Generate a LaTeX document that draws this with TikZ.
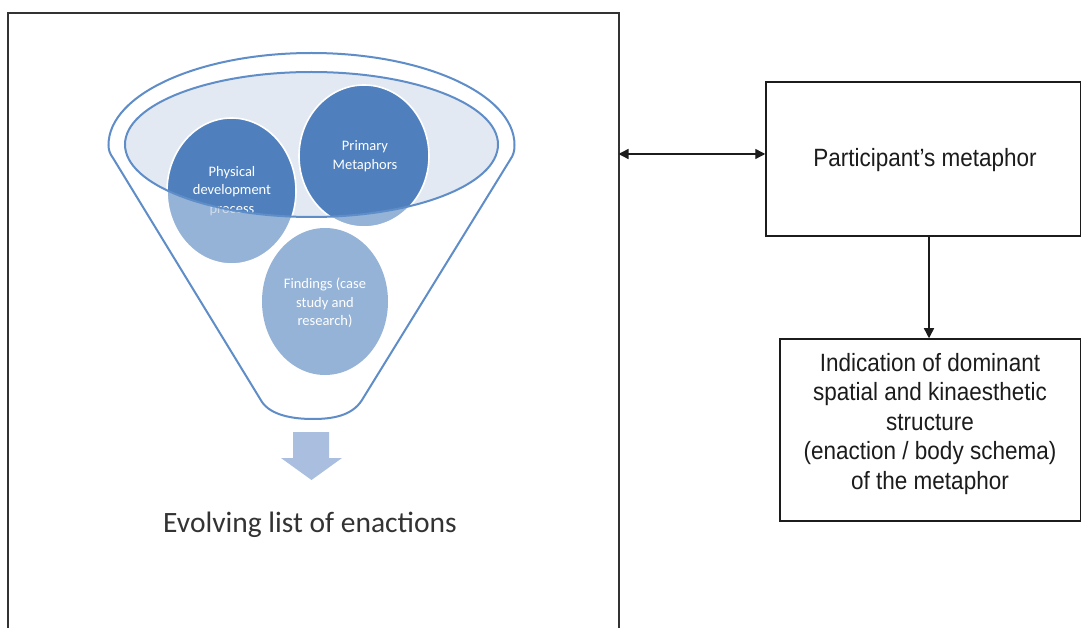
\documentclass[tikz,border=0pt]{standalone}
\usepackage{fontspec}
\setmainfont{Carlito}
\newfontfamily\narrowsans[FakeStretch=0.9]{Liberation Sans}
\usetikzlibrary{arrows.meta}

\definecolor{funnelblue}{HTML}{5F8DC8}
\definecolor{rimfill}{HTML}{E3E9F3}
\definecolor{darkdisc}{HTML}{4F80BD}
\definecolor{lightdisc}{HTML}{95B3D7}
\definecolor{flowarrow}{HTML}{AABFDF}
\definecolor{framegray}{HTML}{333333}
\definecolor{inktext}{HTML}{1C1C1C}

\tikzset{
  frameline/.style={draw=framegray, line width=2pt},
  boxnode/.style={draw=inktext, line width=1.5pt, inner sep=0pt},
  conn/.style={draw=inktext, line width=1.4pt, -{Triangle[length=10pt,width=10pt]}},
  biconn/.style={draw=inktext, line width=1.4pt, {Triangle[length=10pt,width=10pt]}-{Triangle[length=10pt,width=10pt]}},
  boxtext/.style={font=\narrowsans\fontsize{25}{29.5}\selectfont, text=inktext, align=center, inner sep=0pt},
  disctext/.style={font=\fontsize{14.5}{18.5}\selectfont, text=white, align=center, inner sep=0pt},
  funnelline/.style={draw=funnelblue, line width=2pt}
}

% discs and rim of the funnel
\def\discPhys{(231.5,191) ellipse [x radius=64.5, y radius=73]}
\def\discPrim{(364,156) ellipse [x radius=65, y radius=71]}
\def\discFind{(325,301.5) ellipse [x radius=63, y radius=73.5]}
\def\rim{(311.5,144.5) ellipse [x radius=186.5, y radius=72.5]}

\begin{document}
\begin{tikzpicture}[x=1pt,y=-1pt]
\useasboundingbox (0,0) rectangle (1082,628);
\fill[white] (0,0) rectangle (1082,628);

% left frame, open at the bottom
\coordinate (frameR) at (618.5,154);
\draw[frameline] (7.5,640) -- (7.5,13) -- (618.5,13) -- (618.5,640);

% funnel body
\path[funnelline, fill=white]
  (108.5,145) arc[start angle=180, end angle=360, x radius=203, y radius=92]
  .. controls (514.5,151) and (513.5,155) .. (510,160)
  -- (362,400)
  .. controls (352,416) and (332,419) .. (313,419)
  .. controls (292,419) and (271,415) .. (262,402)
  -- (113,158)
  .. controls (110,154) and (108.5,150) .. (108.5,145) -- cycle;

% rim fill
\fill[rimfill] \rim;

% discs: light everywhere, dark inside the rim
\fill[lightdisc] \discPhys;
\fill[lightdisc] \discPrim;
\fill[lightdisc] \discFind;
\begin{scope}
  \clip \rim;
  \fill[darkdisc] \discPhys;
  \fill[darkdisc] \discPrim;
\end{scope}

% disc labels
\node[disctext] (phys) at (232,191) {Physical\\development\\process};
\node[disctext] (prim) at (365,156) {Primary\\Metaphors};
\node[disctext] (find) at (325,303) {Findings (case\\study and\\research)};

% faded lower part of the discs below the rim
\begin{scope}
  \clip \discPhys;
  \fill[lightdisc, opacity=0.45, even odd rule] (0,0) rectangle (640,640) \rim;
\end{scope}
\begin{scope}
  \clip \discPrim;
  \fill[lightdisc, opacity=0.45, even odd rule] (0,0) rectangle (640,640) \rim;
\end{scope}

% white edges of the discs
\draw[white, line width=1.6pt] \discPhys;
\draw[white, line width=1.6pt] \discPrim;

% rim outline
\draw[funnelline] \rim;

% output arrow of the funnel
\fill[flowarrow] (293,432) -- (329,432) -- (329,458) -- (342,458)
  -- (311.5,480) -- (281,458) -- (293,458) -- cycle;

\node[font=\fontsize{29.5}{35}\selectfont, text=inktext!90, anchor=base, inner sep=0pt]
  (evolve) at (310,532) {Evolving list of enactions};

% right-hand boxes
\node[boxnode, minimum width=314.5pt, minimum height=154pt] (partbox) at (923.25,159) {};
\node[boxtext] (parttext) at (925,160) {Participant’s metaphor};

\node[boxnode, minimum width=300.5pt, minimum height=182pt] (indbox) at (930.25,430) {};
\node[boxtext] (indtext) at (930,424)
  {Indication of dominant\\spatial and kinaesthetic\\structure\\(enaction / body schema)\\of the metaphor};

% connectors
\draw[biconn] (frameR) -- (partbox.west |- frameR);
\draw[conn] (929,0 |- partbox.south) -- (929,0 |- indbox.north);
\end{tikzpicture}
\end{document}
